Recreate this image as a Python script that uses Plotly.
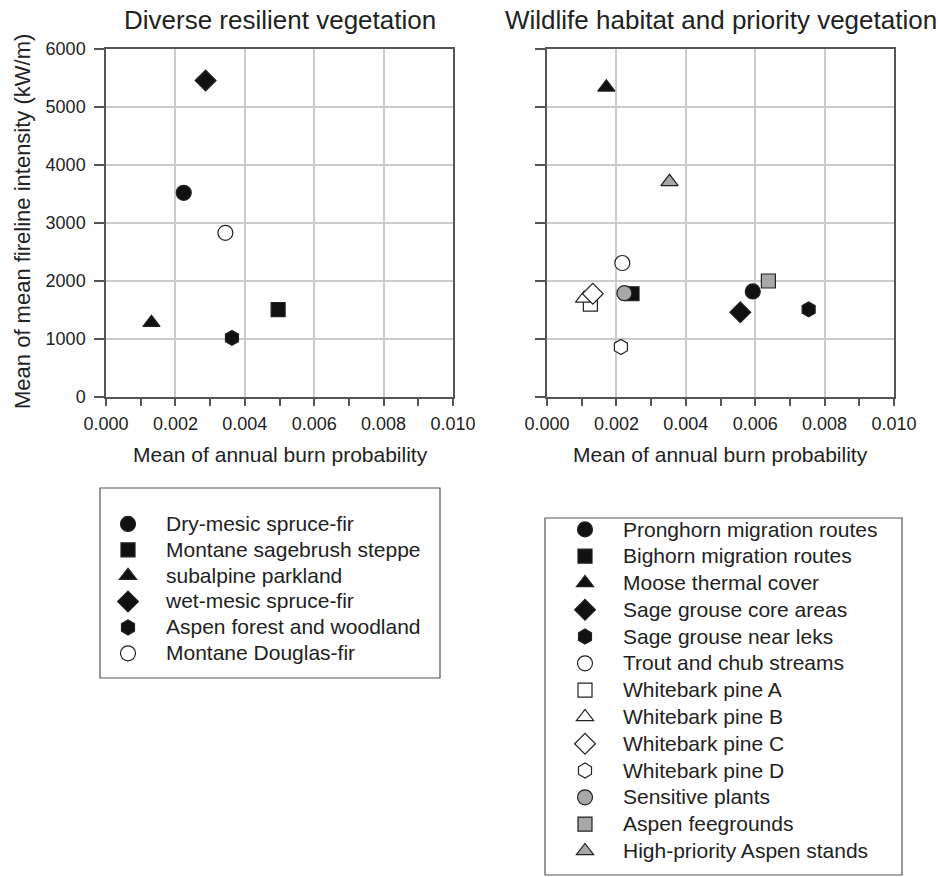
import plotly.graph_objects as go

# ---- Data: Diverse resilient vegetation ----
veg_names = ["Dry-mesic spruce-fir", "Montane sagebrush steppe", "subalpine parkland",
             "wet-mesic spruce-fir", "Aspen forest and woodland", "Montane Douglas-fir"]
veg_burn_prob = [0.00224, 0.00496, 0.00131, 0.00287, 0.00363, 0.00344]
veg_intensity = [3520, 1507, 1280, 5455, 1020, 2830]
veg_symbols = ["circle", "square", "triangle-up", "diamond", "hexagon", "circle"]
veg_fills = ["#111111", "#111111", "#111111", "#111111", "#111111", "#ffffff"]

# ---- Data: Wildlife habitat and priority vegetation ----
wild_names = ["Pronghorn migration routes", "Bighorn migration routes", "Moose thermal cover",
              "Sage grouse core areas", "Sage grouse near leks", "Trout and chub streams",
              "Whitebark pine A", "Whitebark pine B", "Whitebark pine C", "Whitebark pine D",
              "Sensitive plants", "Aspen feegrounds", "High-priority Aspen stands"]
wild_burn_prob = [0.00593, 0.00245, 0.00171, 0.00557, 0.00754, 0.00217,
                  0.00125, 0.00107, 0.00132, 0.00213, 0.00223, 0.00638, 0.00353]
wild_intensity = [1820, 1780, 5340, 1460, 1510, 2310,
                  1600, 1700, 1780, 863, 1790, 2000, 3710]
wild_symbols = ["circle", "square", "triangle-up", "diamond", "hexagon", "circle",
                "square", "triangle-up", "diamond", "hexagon", "circle", "square", "triangle-up"]
wild_fills = ["#111111", "#111111", "#111111", "#111111", "#111111", "#ffffff",
              "#ffffff", "#ffffff", "#ffffff", "#ffffff", "#a8a8a8", "#a8a8a8", "#a8a8a8"]

x_ticks = [0.000, 0.002, 0.004, 0.006, 0.008, 0.010]
x_tick_labels = ["0.000", "0.002", "0.004", "0.006", "0.008", "0.010"]
y_ticks = [0, 1000, 2000, 3000, 4000, 5000, 6000]

FONT = "Liberation Sans, Arial, sans-serif"
TXT = "#222222"
W, H = 938, 877
LEGEND_TEXT_PX = 21

def legend_label(name):
    return '<span style="font-size:%dpx">%s</span>' % (LEGEND_TEXT_PX, name)

fig = go.Figure()

def size_for(sym):
    return {"circle": 15, "square": 14, "triangle-up": 15, "diamond": 16, "hexagon": 15}[sym]

for n, xv, yv, s, f in zip(veg_names, veg_burn_prob, veg_intensity, veg_symbols, veg_fills):
    fig.add_trace(go.Scatter(
        x=[xv], y=[yv], mode="markers", name=legend_label(n), xaxis="x", yaxis="y", legend="legend",
        hovertemplate=n + "<br>%{x:.4f}, %{y:.0f}<extra></extra>",
        marker=dict(symbol=s, size=size_for(s), color=f, line=dict(color="#222222", width=1.2)),
    ))

for n, xv, yv, s, f in zip(wild_names, wild_burn_prob, wild_intensity, wild_symbols, wild_fills):
    fig.add_trace(go.Scatter(
        x=[xv], y=[yv], mode="markers", name=legend_label(n), xaxis="x2", yaxis="y2", legend="legend2",
        hovertemplate=n + "<br>%{x:.4f}, %{y:.0f}<extra></extra>",
        marker=dict(symbol=s, size=size_for(s), color=f, line=dict(color="#222222", width=1.2)),
    ))

def px_x(p):
    return p / W

def px_y(p):
    return 1 - p / H

xdom1 = [px_x(106), px_x(453)]
xdom2 = [px_x(547), px_x(894)]
ydom = [px_y(397), px_y(49)]

axis_common = dict(
    showline=True, linecolor="#555555", linewidth=1.5, mirror=True,
    showgrid=True, gridcolor="#cccccc", gridwidth=1.5, automargin=False,
    zeroline=False, ticks="outside", tickcolor="#555555", tickwidth=1.5,
    tickfont=dict(family=FONT, size=18, color=TXT),
)

xaxis_common = dict(axis_common, range=[0, 0.010], tickvals=x_ticks, ticktext=x_tick_labels,
                    ticklen=7, ticklabelstandoff=3,
                    minor=dict(dtick=0.001, tick0=0, ticks="outside", ticklen=7,
                               tickcolor="#555555", tickwidth=1.5, showgrid=False))
yaxis_common = dict(axis_common, range=[0, 6000], tickvals=y_ticks, ticklen=10, ticklabelstandoff=5)

legend_common = dict(xanchor="left", yanchor="top", bgcolor="rgba(0,0,0,0)",
                     borderwidth=0, tracegroupgap=0, itemclick=False, itemwidth=66)

fig.update_layout(
    width=W, height=H,
    margin=dict(l=0, r=0, t=0, b=0),
    paper_bgcolor="white", plot_bgcolor="white",
    font=dict(family=FONT, color=TXT),
    xaxis=dict(xaxis_common, domain=xdom1, anchor="y"),
    yaxis=dict(yaxis_common, domain=ydom, anchor="x"),
    xaxis2=dict(xaxis_common, domain=xdom2, anchor="y2"),
    yaxis2=dict(yaxis_common, domain=ydom, anchor="x2", showticklabels=False),
    legend=dict(legend_common, x=px_x(90), y=px_y(506),
                font=dict(family=FONT, size=17.6, color=TXT)),
    legend2=dict(legend_common, x=px_x(547), y=px_y(511),
                 font=dict(family=FONT, size=18.3, color=TXT)),
    showlegend=True,
)

# legend frames
fig.add_shape(type="rect", xref="paper", yref="paper",
              x0=px_x(100), x1=px_x(440), y0=px_y(678), y1=px_y(488),
              line=dict(color="#555555", width=1.2), fillcolor="rgba(0,0,0,0)", layer="below")
fig.add_shape(type="rect", xref="paper", yref="paper",
              x0=px_x(545), x1=px_x(902), y0=px_y(875), y1=px_y(518),
              line=dict(color="#555555", width=1.2), fillcolor="rgba(0,0,0,0)", layer="below")

ann = []
ann.append(dict(text="Diverse resilient vegetation", x=px_x(280), y=px_y(20), xref="paper", yref="paper",
                showarrow=False, xanchor="center", yanchor="middle",
                font=dict(family=FONT, size=26, color=TXT)))
ann.append(dict(text="Wildlife habitat and priority vegetation", x=px_x(721), y=px_y(20), xref="paper",
                yref="paper", showarrow=False, xanchor="center", yanchor="middle",
                font=dict(family=FONT, size=26, color=TXT)))
for cx in (280, 720):
    ann.append(dict(text="Mean of annual burn probability", x=px_x(cx), y=px_y(454), xref="paper",
                    yref="paper", showarrow=False, xanchor="center", yanchor="middle",
                    font=dict(family=FONT, size=21, color=TXT)))
ann.append(dict(text="Mean of mean fireline intensity (kW/m)", x=px_x(22), y=px_y(222), xref="paper",
                yref="paper", showarrow=False, xanchor="center", yanchor="middle", textangle=-90,
                font=dict(family=FONT, size=22, color=TXT)))
fig.update_layout(annotations=ann)

fig.write_html("out.html", config={"displayModeBar": False},
               post_script="document.body.style.margin='0';document.body.style.padding='0';")
